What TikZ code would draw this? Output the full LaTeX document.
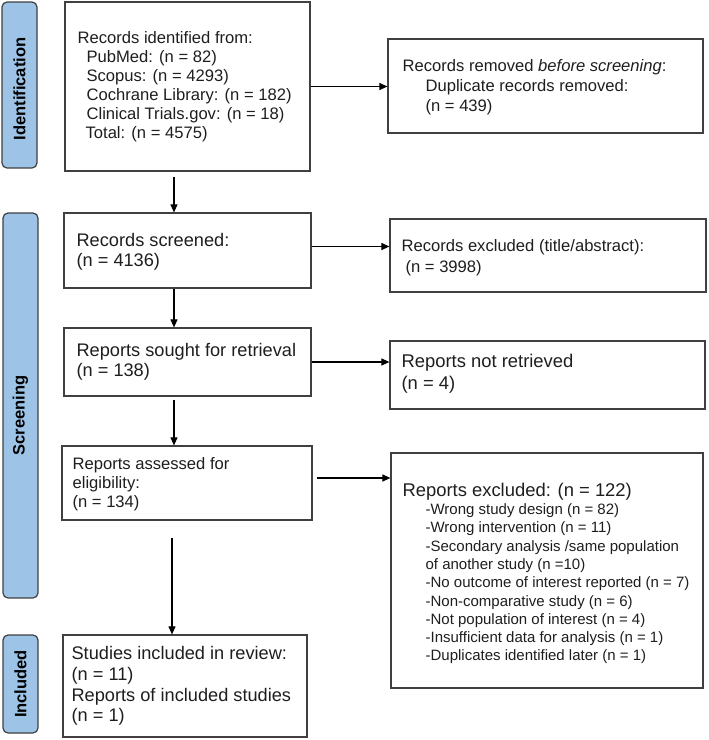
\documentclass[tikz,border=0pt]{standalone}
\usepackage{fontspec}
\setmainfont{Liberation Sans}
\usetikzlibrary{arrows.meta,calc}
\definecolor{lblue}{HTML}{9DC3E6}
\definecolor{bord}{HTML}{404040}
\definecolor{txt}{HTML}{1E1E1E}
\newcommand{\fA}{\fontsize{16.6}{19}\selectfont}
\newcommand{\fB}{\fontsize{18.2}{20.3}\selectfont}
\newcommand{\fC}{\fontsize{15}{18.3}\selectfont}
\tikzset{
  box/.style={draw=bord, line width=1.2pt, inner sep=0pt},
  phase/.style={draw=bord, line width=1.2pt, fill=lblue, rounded corners=5pt, inner sep=0pt, rotate=90,
     font=\bfseries\fontsize{16.5}{18}\selectfont, text=black},
  boxtext/.style={anchor=west, align=left, inner sep=0pt, text=txt},
  arr/.style={-{Triangle[length=8pt,width=7pt]}, line width=1.1pt, black}
}
\begin{document}
\begin{tikzpicture}[x=1pt,y=-1pt]
\useasboundingbox (0,0) rectangle (709,740);
% phase labels
\node[phase, minimum width=166pt, minimum height=35pt] (pid) at (19.5,85) {Identification\hspace*{8pt}};
\node[phase, minimum width=385pt, minimum height=35pt] (psc) at (20.5,405.5) {Screening\hspace*{20pt}};
\node[phase, minimum width=98pt, minimum height=35pt] (pin) at (20.5,684) {Included};
% boxes
\node[box, minimum width=245pt, minimum height=169pt] (b1) at (187.5,86.5) {};
\node[box, minimum width=315pt, minimum height=94pt] (r1) at (545.5,86) {};
\node[box, minimum width=247pt, minimum height=75pt] (b2) at (187.5,250.5) {};
\node[box, minimum width=316pt, minimum height=73pt] (r2) at (548,255.5) {};
\node[box, minimum width=247pt, minimum height=68pt] (b3) at (187.5,362) {};
\node[box, minimum width=315pt, minimum height=68pt] (r3) at (547.5,375) {};
\node[box, minimum width=250pt, minimum height=74pt] (b4) at (187,483) {};
\node[box, minimum width=312pt, minimum height=235pt] (r4) at (547,570.5) {};
\node[box, minimum width=244pt, minimum height=102pt] (b5) at (185,686) {};
% texts
\node[boxtext, font=\fA] (t1) at ([xshift=13pt]b1.west) {Records identified from:\\
\hspace*{9pt}PubMed: (n = 82)\\
\hspace*{9pt}Scopus: (n = 4293)\\
\hspace*{9pt}Cochrane Library: (n = 182)\\
\hspace*{9pt}Clinical Trials.gov: (n = 18)\\
\hspace*{8pt}Total: (n = 4575)};
\node[boxtext, font=\fontsize{16.6}{20}\selectfont] (tr1) at ([xshift=15pt,yshift=-1pt]r1.west) {Records removed \textit{before screening}:\\
\hspace*{23pt}Duplicate records removed:\\
\hspace*{23pt}(n = 439)};
\node[boxtext, font=\fB] (t2) at ([xshift=13pt,yshift=-1.5pt]b2.west) {Records screened:\\(n = 4136)};
\node[boxtext, font=\fontsize{16.6}{21}\selectfont] (tr2) at ([xshift=12pt,yshift=-2pt]r2.west) {Records excluded (title/abstract):\\
\hspace*{4pt}(n = 3998)};
\node[boxtext, font=\fB] (t3) at ([xshift=13pt]b3.west) {Reports sought for retrieval\\(n = 138)};
\node[boxtext, font=\fontsize{18.4}{22}\selectfont] (tr3) at ([xshift=12pt,yshift=1pt]r3.west) {Reports not retrieved\\(n = 4)};
\node[boxtext, font=\fA] (t4) at ([xshift=11pt,yshift=-1pt]b4.west) {Reports assessed for\\eligibility:\\(n = 134)};
\node[boxtext, font=\fC] (tr4) at ([xshift=12pt,yshift=-3pt]r4.west) {{\fontsize{18.4}{18.3}\selectfont Reports excluded: (n = 122)}\\
\hspace*{23pt}-Wrong study design (n = 82)\\
\hspace*{23pt}-Wrong intervention (n = 11)\\
\hspace*{23pt}-Secondary analysis /same population\\
\hspace*{23pt}of another study (n =10)\\
\hspace*{23pt}-No outcome of interest reported (n = 7)\\
\hspace*{23pt}-Non-comparative study (n = 6)\\
\hspace*{23pt}-Not population of interest (n = 4)\\
\hspace*{23pt}-Insufficient data for analysis (n = 1)\\
\hspace*{23pt}-Duplicates identified later (n = 1)};
\node[boxtext, font=\fontsize{18.2}{20.7}\selectfont] (t5) at ([xshift=9pt]b5.west) {Studies included in review:\\(n = 11)\\Reports of included studies\\(n = 1)};
% arrows
\draw[arr] (b1.east) -- (b1.east -| r1.west);
\draw[arr] ([xshift=-13.5pt,yshift=-5pt]b1.south) -- ([xshift=-13.5pt]b1.south |- b2.north);
\draw[arr] ([yshift=4pt]b2.east) -- ([yshift=4pt]b2.east -| r2.west);
\draw[arr] ([xshift=-13.5pt]b2.south) -- ([xshift=-13.5pt]b2.south |- b3.north);
\draw[arr] (b3.east) -- (b3.east -| r3.west);
\draw[arr] ([xshift=-13.5pt,yshift=-3pt]b3.south) -- ([xshift=-13.5pt]b3.south |- b4.north);
\draw[arr] ([xshift=4pt,yshift=5pt]b4.east) -- ([yshift=5pt]b4.east -| r4.west);
\draw[arr] ([xshift=-15pt,yshift=-17pt]b4.south) -- ([xshift=-15pt]b4.south |- b5.north);
\end{tikzpicture}
\end{document}
